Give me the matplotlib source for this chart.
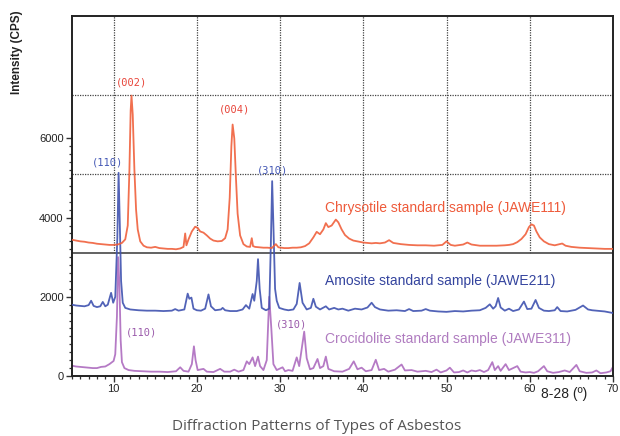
import matplotlib
matplotlib.use("Agg")
import matplotlib.pyplot as plt
from matplotlib.ticker import MultipleLocator, FixedLocator

# ---------------- data ----------------
chrysotile_x = [5.0, 5.5, 6.0, 6.5, 7.0, 7.5, 8.0, 8.5, 9.0, 9.5, 10.0, 10.5, 11.0, 11.4, 11.7, 11.9,
                12.05, 12.15, 12.3, 12.5, 12.7, 12.9, 13.2, 13.6, 14.0, 14.5, 15.0, 15.5, 16.0, 16.5,
                17.0, 17.5, 18.0, 18.4, 18.6, 18.75, 19.0, 19.4, 19.8, 20.1, 20.4, 20.8, 21.2, 21.6,
                22.0, 22.5, 23.0, 23.4, 23.7, 23.95, 24.15, 24.3, 24.5, 24.7, 24.9, 25.2, 25.6, 26.0,
                26.4, 26.6, 26.75, 27.0, 27.5, 28.0, 28.5, 29.0, 29.5, 29.8, 30.5, 31.0, 31.5, 32.0,
                32.5, 33.0, 33.5, 34.0, 34.4, 34.8, 35.2, 35.5, 35.8, 36.2, 36.7, 37.0, 37.4, 37.8,
                38.3, 38.8, 39.5, 40.0, 40.5, 41.0, 41.5, 42.0, 42.6, 43.1, 43.6, 44.5, 45.5, 46.5,
                47.5, 48.5, 49.5, 50.0, 50.5, 51.0, 52.0, 52.5, 53.0, 54.0, 55.0, 56.0, 57.0, 57.5,
                58.0, 58.5, 59.0, 59.5, 59.9, 60.2, 60.5, 60.8, 61.2, 61.7, 62.3, 63.0, 63.6, 63.9,
                64.3, 65.0, 66.0, 67.0, 68.0, 69.0, 70.0]
chrysotile_y = [3440, 3420, 3400, 3390, 3370, 3360, 3340, 3330, 3320, 3310, 3310, 3320, 3360, 3450, 3800, 5200,
                6700, 7080, 6600, 5200, 4200, 3700, 3400, 3290, 3250, 3240, 3260, 3230, 3220, 3210,
                3210, 3200, 3220, 3260, 3600, 3300, 3450, 3650, 3770, 3740, 3650, 3620, 3550, 3470,
                3420, 3400, 3410, 3480, 3700, 4500, 5800, 6350, 6000, 5000, 4100, 3550, 3330, 3270,
                3260, 3480, 3280, 3260, 3250, 3240, 3240, 3230, 3330, 3250, 3230, 3230, 3240, 3240,
                3250, 3280, 3350, 3500, 3640, 3580, 3700, 3860, 3760, 3800, 3950, 3880, 3700, 3560,
                3470, 3420, 3390, 3370, 3360, 3350, 3360, 3350, 3370, 3430, 3360, 3330, 3310, 3300,
                3300, 3290, 3310, 3400, 3310, 3290, 3320, 3370, 3320, 3290, 3290, 3290, 3300, 3310,
                3330, 3380, 3460, 3580, 3760, 3830, 3800, 3650, 3500, 3400, 3330, 3300, 3330, 3345,
                3290, 3260, 3240, 3230, 3220, 3210, 3210]

amosite_x = [5.0, 5.5, 6.0, 6.5, 7.0, 7.3, 7.6, 8.0, 8.4, 8.7, 9.0, 9.3, 9.7, 9.95, 10.2, 10.45, 10.6,
             10.75, 10.9, 11.1, 11.4, 12.0, 13.0, 14.0, 15.0, 16.0, 17.0, 17.4, 17.8, 18.5, 18.9, 19.1,
             19.35, 19.6, 20.0, 20.5, 21.0, 21.4, 21.7, 22.2, 22.9, 23.1, 23.4, 24.0, 24.8, 25.5, 25.9,
             26.3, 26.7, 26.9, 27.2, 27.35, 27.55, 27.8, 28.3, 28.7, 28.9, 29.05, 29.2, 29.4, 29.6, 29.9,
             30.5, 31.0, 31.6, 32.0, 32.35, 32.7, 33.2, 33.7, 34.0, 34.3, 34.8, 35.5, 35.9, 36.5, 37.0,
             37.5, 38.2, 39.0, 39.8, 40.5, 41.0, 41.4, 42.0, 43.0, 44.0, 45.0, 45.5, 46.0, 47.0, 47.5,
             48.0, 49.0, 50.0, 51.0, 52.0, 53.0, 54.0, 54.7, 55.2, 55.6, 55.9, 56.2, 56.5, 57.0, 57.5,
             58.0, 58.7, 59.3, 59.7, 60.2, 60.7, 61.1, 61.7, 62.3, 63.0, 63.3, 63.7, 64.5, 65.5, 66.4,
             67.0, 67.5, 68.0, 69.0, 70.0]
amosite_y = [1800, 1780, 1770, 1760, 1790, 1900, 1770, 1740, 1760, 1870, 1760, 1800, 2100, 1850, 2000, 3500, 5130,
             3800, 2400, 1850, 1720, 1680, 1660, 1650, 1650, 1640, 1650, 1690, 1650, 1680, 2080, 1950,
             1980, 1700, 1660, 1650, 1700, 2060, 1760, 1660, 1680, 1720, 1660, 1640, 1640, 1680, 1790,
             1700, 2070, 1900, 2400, 2950, 2200, 1720, 1660, 1700, 3400, 4920, 3800, 2200, 1900, 1720,
             1680, 1660, 1680, 1820, 2350, 1850, 1680, 1720, 1950, 1750, 1680, 1760, 1680, 1720, 1680,
             1700, 1650, 1700, 1680, 1730, 1850, 1740, 1680, 1650, 1660, 1640, 1690, 1640, 1650, 1690,
             1650, 1630, 1620, 1640, 1630, 1650, 1660, 1720, 1810, 1700, 1760, 1970, 1730, 1650, 1700,
             1640, 1680, 1880, 1690, 1700, 1920, 1720, 1650, 1640, 1660, 1740, 1640, 1630, 1670, 1780,
             1680, 1660, 1650, 1630, 1590]

crocidolite_x = [5.0, 5.5, 6.0, 6.5, 7.0, 7.5, 8.0, 8.5, 9.0, 9.5, 10.0, 10.2, 10.4, 10.55, 10.7, 10.85,
                 11.0, 11.3, 11.8, 12.5, 13.5, 14.5, 15.5, 16.5, 17.5, 18.0, 18.4, 19.0, 19.4, 19.65,
                 19.85, 20.1, 20.8, 21.2, 22.0, 22.8, 23.3, 24.0, 24.5, 25.0, 25.6, 26.0, 26.3, 26.7,
                 27.0, 27.35, 27.6, 28.0, 28.4, 28.7, 28.95, 29.2, 29.6, 30.3, 30.6, 31.0, 31.5, 32.0,
                 32.3, 32.9, 33.2, 33.6, 34.0, 34.5, 34.8, 35.2, 35.5, 35.8, 36.5, 37.5, 38.3, 38.85,
                 39.3, 39.8, 40.3, 41.0, 41.5, 41.9, 42.5, 43.0, 43.8, 44.6, 45.0, 45.8, 46.5, 47.5,
                 48.2, 48.8, 49.3, 50.0, 50.4, 50.9, 51.5, 52.0, 52.5, 53.0, 53.5, 54.0, 54.5, 55.0,
                 55.5, 55.8, 56.2, 56.5, 57.1, 57.5, 58.0, 58.5, 58.9, 59.5, 60.0, 60.5, 61.0, 61.7,
                 62.1, 62.8, 63.5, 64.2, 64.8, 65.6, 66.0, 66.8, 67.5, 68.0, 68.5, 69.2, 69.7, 70.0]
crocidolite_y = [260, 240, 230, 220, 210, 200, 200, 230, 240, 300, 380, 550, 1500, 3000, 2300, 900,
                 350, 200, 150, 130, 120, 110, 110, 100, 120, 220, 130, 110, 300, 750,
                 400, 150, 180, 110, 100, 180, 110, 110, 160, 110, 150, 370, 300, 470,
                 250, 490, 250, 150, 400, 2000, 1200, 300, 150, 220, 120, 150, 130, 470,
                 250, 1120, 450, 170, 200, 430, 200, 250, 490, 180, 120, 110, 180, 370,
                 170, 210, 120, 150, 410, 150, 180, 110, 160, 290, 140, 150, 110, 130,
                 100, 160, 90, 140, 210, 90, 100, 140, 90, 140, 120, 150, 100, 150,
                 350, 150, 250, 130, 300, 150, 200, 250, 110, 90, 100, 80, 120, 250,
                 120, 80, 100, 140, 100, 280, 120, 80, 90, 140, 70, 90, 120, 230]

series_names = ["Chrysotile standard sample (JAWE111)",
                "Amosite standard sample (JAWE211)",
                "Crocidolite standard sample (JAWE311)"]
peak_labels = ["(002)", "(004)", "(110)", "(310)", "(110)", "(310)"]
x_ticks = [10, 20, 30, 40, 50, 60, 70]
y_ticks = [0, 2000, 4000, 6000]
y_minor_ticks = list(range(0, 6001, 200))
grid_x = [10, 20, 30, 40, 50, 60]
grid_y = [5100, 7100]
separator_y = 3100

# ---------------- styling ----------------
c_chry = "#f0603c"
c_amo = "#3f52b0"
c_cro = "#ad6cbf"

plt.rcParams["font.family"] = ["Liberation Sans", "DejaVu Sans"]

fig = plt.figure(figsize=(6.2, 4.36), dpi=100)
ax = fig.add_axes([0.1161, 0.1376, 0.8726, 0.8257])

ax.set_xlim(5, 70)
ax.set_ylim(0, 9090)

# grid (upper panel only) and separator
for gx in grid_x:
    ax.plot([gx, gx], [separator_y, 9090], linestyle=(0, (1, 1)), color="#444444", lw=0.9, zorder=1)
for gy in grid_y:
    ax.axhline(gy, linestyle=(0, (1, 1)), color="#444444", lw=0.9, zorder=1)
ax.axhline(separator_y, color="#555555", lw=1.3, zorder=1)

ax.plot(crocidolite_x, crocidolite_y, color=c_cro, lw=1.3, alpha=0.9, zorder=2)
ax.plot(amosite_x, amosite_y, color=c_amo, lw=1.3, alpha=0.9, zorder=3)
ax.plot(chrysotile_x, chrysotile_y, color=c_chry, lw=1.3, alpha=0.9, zorder=4)

# series names
name_fs = 10
ax.text(35.4, 4250, series_names[0], color="#ee5a3a", fontsize=name_fs, va="center", ha="left")
ax.text(35.4, 2400, series_names[1], color="#34449e", fontsize=name_fs, va="center", ha="left")
ax.text(35.4, 930, series_names[2], color="#b07cc0", fontsize=name_fs, va="center", ha="left")

# peak labels
pk_font = dict(family=["DejaVu Sans Mono"], fontsize=7.5, ha="center", va="center")
ax.text(12.1, 7410, peak_labels[0], color="#e8453a", **pk_font)
ax.text(24.5, 6730, peak_labels[1], color="#e8453a", **pk_font)
ax.text(9.3, 5380, peak_labels[2], color="#4458b5", **pk_font)
ax.text(29.1, 5200, peak_labels[3], color="#4458b5", **pk_font)
ax.text(13.4, 1110, peak_labels[4], color="#9b5bab", **pk_font)
ax.text(31.4, 1310, peak_labels[5], color="#9b5bab", **pk_font)

# axes / ticks
for s in ax.spines.values():
    s.set_color("#222222")
    s.set_linewidth(1.4)
ax.xaxis.set_major_locator(FixedLocator(x_ticks))
ax.xaxis.set_minor_locator(MultipleLocator(1))
ax.yaxis.set_major_locator(FixedLocator(y_ticks))
ax.yaxis.set_minor_locator(FixedLocator(y_minor_ticks))
ax.tick_params(which="major", direction="out", length=4, width=1.0, color="#333333",
               labelsize=8, labelcolor="#222222", pad=2)
ax.tick_params(which="minor", direction="out", length=2.5, width=0.9, color="#333333")

ax.text(0.91, -0.05, "8-28 (º)", transform=ax.transAxes, fontsize=10, color="#222222",
        ha="center", va="center")

fig.text(0.027, 0.88, "Intensity (CPS)", rotation=90, fontsize=8.5, fontweight="bold",
         color="#222222", ha="center", va="center")

fig.text(0.51, 0.022, "Diffraction Patterns of Types of Asbestos", family=["Open Sans"],
         fontsize=11, color="#555555", ha="center", va="center")

fig.savefig("out.png", dpi=100)
